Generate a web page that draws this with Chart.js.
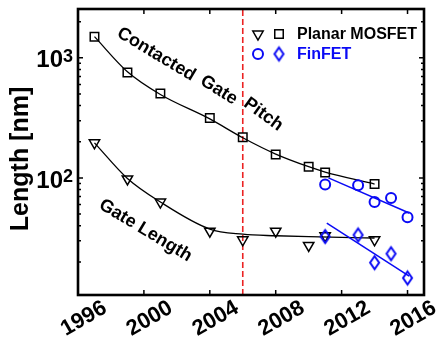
<!DOCTYPE html>
<html><head><meta charset="utf-8">
<script src="https://cdn.jsdelivr.net/npm/chart.js@4.4.1/dist/chart.umd.min.js"></script>
<style>html,body{margin:0;padding:0;background:#fff;overflow:hidden}</style>
</head><body>
<canvas id="c" width="439" height="350" style="display:block;width:439px;height:350px"></canvas>
<script>
// ---------- data ----------
const pitchYears  = [1997, 1999, 2001, 2004, 2006, 2008, 2010, 2011, 2014];
const pitchValues = [1500, 755, 505, 315, 218, 157, 124, 111, 89];
const gateYears   = [1997, 1999, 2001, 2004, 2006, 2008, 2010, 2011, 2014];
const gateValues  = [196, 98, 63, 36, 30.5, 36, 27.4, 33, 30.5];
const finPitchYears  = [2011, 2013, 2014, 2015, 2016];
const finPitchValues = [88, 87, 63, 68, 47];
const finGateYears   = [2011, 2013, 2014, 2015, 2016];
const finGateValues  = [32.5, 33.5, 19.7, 23.4, 14.7];
// trend curves as drawn in the picture
const pitchFitYears  = [1997, 1999, 2001, 2004, 2006, 2008, 2010, 2011, 2014];
const pitchFitValues = [1500, 765, 495, 310, 216, 158, 124, 112, 89];
const gateFitYears   = [1997, 1999, 2001, 2004, 2006, 2008, 2010, 2012, 2014];
const gateFitValues  = [196, 99, 63, 37.5, 34, 33, 32.4, 32, 31.6];
const finPitchFitYears  = [2011.2, 2016.1];
const finPitchFitValues = [100, 51];
const finGateFitYears   = [2011.1, 2016.1];
const finGateFitValues  = [42, 15.2];
const markerYear = 2006;
const xTickValues = [1996, 2000, 2004, 2008, 2012, 2016];
const yTickValues = [100, 1000];
const yTickExponents = ['2', '3'];
const yMinorTickValues = [20, 30, 40, 50, 60, 70, 80, 90, 200, 300, 400, 500, 600, 700, 800, 900, 2000];
const legendNames = ['Planar MOSFET', 'FinFET'];
const curveLabels = [
  {text: 'Contacted', x: 2000.75, y: 1070, angle: 31},
  {text: 'Gate', x: 2004.55, y: 538, angle: 32},
  {text: 'Pitch', x: 2007.25, y: 338, angle: 36},
  {text: 'Gate Length', x: 2000.1, y: 36.5, angle: 31}
];

// ---------- styling ----------
const BLUE = 'rgb(10,10,245)';
const RED = 'rgb(235,35,35)';
const FONT = 'Liberation Sans, Arial, Helvetica, sans-serif';

function pts(xs, ys) { return xs.map((x, i) => ({x: x, y: ys[i]})); }

function makeDiamond(w, h, color, lw) {
  const c = document.createElement('canvas');
  c.width = Math.ceil(w + lw * 2 + 2); c.height = Math.ceil(h + lw * 2 + 2);
  const g = c.getContext('2d');
  const cx = c.width / 2, cy = c.height / 2;
  g.strokeStyle = color; g.lineWidth = lw; g.lineJoin = 'miter';
  g.beginPath();
  g.moveTo(cx, cy - h / 2); g.lineTo(cx + w / 2, cy); g.lineTo(cx, cy + h / 2); g.lineTo(cx - w / 2, cy);
  g.closePath(); g.stroke();
  return c;
}
const diamondImg = makeDiamond(9, 13, BLUE, 2);

function marker(data, style, color, radius, lw, rot) {
  return {data: data, showLine: false, pointStyle: style, pointRadius: radius, pointHoverRadius: radius,
    pointBorderColor: color, pointBackgroundColor: 'rgba(0,0,0,0)', pointBorderWidth: lw,
    pointRotation: rot || 0, borderColor: color, backgroundColor: 'rgba(0,0,0,0)'};
}
function curve(data, color, lw) {
  return {data: data, showLine: true, pointRadius: 0, pointHoverRadius: 0,
    borderColor: color, borderWidth: lw, backgroundColor: 'rgba(0,0,0,0)', fill: false,
    cubicInterpolationMode: 'monotone'};
}

const datasets = [
  marker(pts(finGateYears, finGateValues), diamondImg, BLUE, 7, 2),
  marker(pts(finPitchYears, finPitchValues), 'circle', BLUE, 5, 2),
  curve(pts(finGateFitYears, finGateFitValues), BLUE, 1.5),
  curve(pts(finPitchFitYears, finPitchFitValues), BLUE, 1.5),
  marker(pts(gateYears, gateValues), 'triangle', '#000', 6, 1.5, 180),
  marker(pts(pitchYears, pitchValues), 'rect', '#000', 6, 1.5),
  curve(pts(gateFitYears, gateFitValues), '#000', 1.3),
  curve(pts(pitchFitYears, pitchFitValues), '#000', 1.3),
  {data: [{x: markerYear, y: 10.6}, {x: markerYear, y: 2550}], showLine: true, pointRadius: 0,
   borderColor: RED, borderWidth: 1.6, borderDash: [6, 3], backgroundColor: 'rgba(0,0,0,0)'}
];

function drawMarker(ctx, kind, x, y, color) {
  ctx.save();
  ctx.strokeStyle = color;
  if (kind === 'tri') {
    const r = 6; ctx.lineWidth = 1.5; ctx.beginPath();
    ctx.moveTo(x, y + r);
    ctx.lineTo(x - r * Math.sin(Math.PI / 3), y - r * 0.5);
    ctx.lineTo(x + r * Math.sin(Math.PI / 3), y - r * 0.5);
    ctx.closePath(); ctx.stroke();
  } else if (kind === 'sq') {
    const s = 6 * Math.SQRT1_2; ctx.lineWidth = 1.5;
    ctx.strokeRect(x - s, y - s, 2 * s, 2 * s);
  } else if (kind === 'circ') {
    ctx.lineWidth = 2; ctx.beginPath(); ctx.arc(x, y, 5, 0, Math.PI * 2); ctx.stroke();
  } else if (kind === 'dia') {
    ctx.drawImage(diamondImg, x - diamondImg.width / 2, y - diamondImg.height / 2);
  }
  ctx.restore();
}

const decorPlugin = {
  id: 'decor',
  afterDatasetsDraw(chart) {
    const ctx = chart.ctx, a = chart.chartArea, xs = chart.scales.x, ys = chart.scales.y;
    ctx.save();
    ctx.strokeStyle = '#000';
    ctx.lineWidth = 1.5;
    ctx.beginPath();
    xs.ticks.forEach(t => {
      const p = xs.getPixelForValue(t.value);
      ctx.moveTo(p, a.bottom); ctx.lineTo(p, a.bottom - 5);
      ctx.moveTo(p, a.top); ctx.lineTo(p, a.top + 5);
    });
    yTickValues.forEach(v => {
      const p = ys.getPixelForValue(v);
      ctx.moveTo(a.left, p); ctx.lineTo(a.left + 5, p);
      ctx.moveTo(a.right, p); ctx.lineTo(a.right - 5, p);
    });
    yMinorTickValues.forEach(v => {
      const p = ys.getPixelForValue(v);
      ctx.moveTo(a.left, p); ctx.lineTo(a.left + 3, p);
      ctx.moveTo(a.right, p); ctx.lineTo(a.right - 3, p);
    });
    ctx.stroke();
    ctx.lineWidth = 2.6;
    ctx.strokeRect(a.left, a.top, a.right - a.left, a.bottom - a.top);

    // exponents of the y tick labels (10^n)
    ctx.fillStyle = '#000';
    ctx.font = 'bold 18px ' + FONT;
    ctx.textAlign = 'left'; ctx.textBaseline = 'alphabetic';
    yTickValues.forEach((v, i) => {
      const p = ys.getPixelForValue(v);
      ctx.fillText(yTickExponents[i], a.left - 15, p + 4);
    });

    // curve labels
    ctx.font = 'bold 18px ' + FONT;
    ctx.textAlign = 'center'; ctx.textBaseline = 'middle';
    curveLabels.forEach(l => {
      ctx.save();
      ctx.translate(xs.getPixelForValue(l.x), ys.getPixelForValue(l.y));
      ctx.rotate(l.angle * Math.PI / 180);
      ctx.fillText(l.text, 0, 0);
      ctx.restore();
    });

    // legend
    const lx = a.left + 180, ly = a.top + 25;
    drawMarker(ctx, 'tri', lx, ly, '#000');
    drawMarker(ctx, 'sq', lx + 21, ly, '#000');
    drawMarker(ctx, 'circ', lx, ly + 20, BLUE);
    drawMarker(ctx, 'dia', lx + 21, ly + 20, BLUE);
    ctx.font = 'bold 16px ' + FONT;
    ctx.textAlign = 'left';
    ctx.fillStyle = '#000';
    ctx.fillText(legendNames[0], lx + 39, ly + 1);
    ctx.fillStyle = BLUE;
    ctx.fillText(legendNames[1], lx + 39, ly + 21);
    ctx.restore();
  }
};

function noPad(s) { s.paddingTop = 0; s.paddingBottom = 0; s.paddingLeft = 0; s.paddingRight = 0; }

new Chart(document.getElementById('c'), {
  type: 'scatter',
  data: {datasets: datasets},
  plugins: [decorPlugin],
  options: {
    responsive: false,
    animation: false,
    events: [],
    layout: {padding: {top: 7, right: 15, left: 0, bottom: 0}},
    plugins: {legend: {display: false}, tooltip: {enabled: false}},
    scales: {
      x: {
        type: 'linear', min: 1996, max: 2017,
        afterBuildTicks: s => { s.ticks = xTickValues.map(v => ({value: v})); },
        afterFit: s => { s.height = 55; noPad(s); },
        grid: {display: false, drawTicks: false},
        border: {display: false},
        ticks: {minRotation: 30, maxRotation: 30, padding: 0, labelOffset: 27, autoSkip: false,
          color: '#000', font: {family: FONT, size: 22, weight: 'bold'},
          callback: v => String(v)}
      },
      y: {
        type: 'logarithmic', min: 10.6, max: 2550,
        afterBuildTicks: s => { s.ticks = yTickValues.map(v => ({value: v, major: true})); },
        afterFit: s => { s.width = 78; noPad(s); },
        grid: {display: false, drawTicks: false},
        border: {display: false},
        ticks: {padding: 15, labelOffset: 3, autoSkip: false, color: '#000',
          font: {family: FONT, size: 24, weight: 'bold'},
          callback: v => (yTickValues.indexOf(v) >= 0 ? '10' : '')},
        title: {display: true, text: 'Length [nm]  ', color: '#000',
          font: {family: FONT, size: 25, weight: 'bold'}, padding: {top: 6, bottom: 0}}
      }
    }
  }
});
</script>
</body></html>
